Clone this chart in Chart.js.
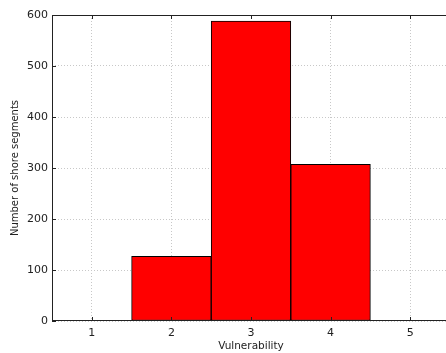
<!DOCTYPE html>
<html>
<head>
<meta charset="utf-8">
<script src="https://cdn.jsdelivr.net/npm/chart.js@4/dist/chart.umd.min.js"></script>
<style>
  html,body{margin:0;padding:0;background:#fff;overflow:hidden}
  #wrap{width:452px;height:353px;position:relative}
</style>
</head>
<body>
<div id="wrap"><canvas id="c"></canvas></div>
<script>
// ─── DATA ───────────────────────────────────────────────
const vulnLabels = ['1','2','3','4','5'];
const segmentCounts = [null,127,588,307,null];
const yTicks = [0,100,200,300,400,500,600];

// frame + inward ticks like matplotlib classic
const framePlugin = {
  id:'frame',
  afterDraw(chart){
    const {ctx, chartArea:a, scales} = chart;
    ctx.save();
    ctx.strokeStyle = '#222';
    ctx.lineWidth = 1;
    ctx.strokeRect(a.left+0.5, a.top+0.5, a.right-a.left-1, a.bottom-a.top-1);
    ctx.beginPath();
    scales.x.ticks.forEach((t,i)=>{
      const x = Math.round(scales.x.getPixelForTick(i))+0.5;
      ctx.moveTo(x,a.bottom); ctx.lineTo(x,a.bottom-4);
      ctx.moveTo(x,a.top); ctx.lineTo(x,a.top+4);
    });
    yTicks.forEach(v=>{
      const y = Math.round(scales.y.getPixelForValue(v))+0.5;
      ctx.moveTo(a.left,y); ctx.lineTo(a.left+4,y);
    });
    ctx.stroke();
    ctx.restore();
  }
};

new Chart(document.getElementById('c'),{
  type:'bar',
  data:{labels:vulnLabels,datasets:[{
    data:segmentCounts,
    backgroundColor:'#ff0000',
    borderColor:'#000',
    borderWidth:1,
    borderSkipped:false,
    barPercentage:1,
    categoryPercentage:1
  }]},
  options:{
    responsive:true,maintainAspectRatio:false,animation:false,
    layout:{padding:{left:0,right:2,top:15,bottom:0}},
    plugins:{legend:{display:false},tooltip:{enabled:false}},
    scales:{
      x:{
        offset:true,
        grid:{offset:false,color:'#c8c8c8',lineWidth:1,drawTicks:false,tickBorderDash:[1,2]},
        border:{display:false,dash:[1,2]},
        ticks:{font:{family:'DejaVu Sans',size:11},color:'#222',padding:6},
        title:{display:true,text:'Vulnerability',font:{family:'DejaVu Sans',size:10.5},color:'#222',padding:{top:0,bottom:0}},
        afterFit(s){s.height=32;}
      },
      y:{
        min:0,max:600,
        afterBuildTicks(s){s.ticks=yTicks.map(v=>({value:v}));},
        grid:{color:'#c8c8c8',lineWidth:1,drawTicks:false},
        border:{display:false,dash:[1,2]},
        ticks:{font:{family:'DejaVu Sans',size:11},color:'#222',padding:4},
        title:{display:true,text:'Number of shore segments',font:{family:'DejaVu Sans',size:10},color:'#222',padding:{top:9,bottom:0}},
        afterFit(s){s.width=52;}
      }
    }
  },
  plugins:[framePlugin]
});
</script>
</body>
</html>
